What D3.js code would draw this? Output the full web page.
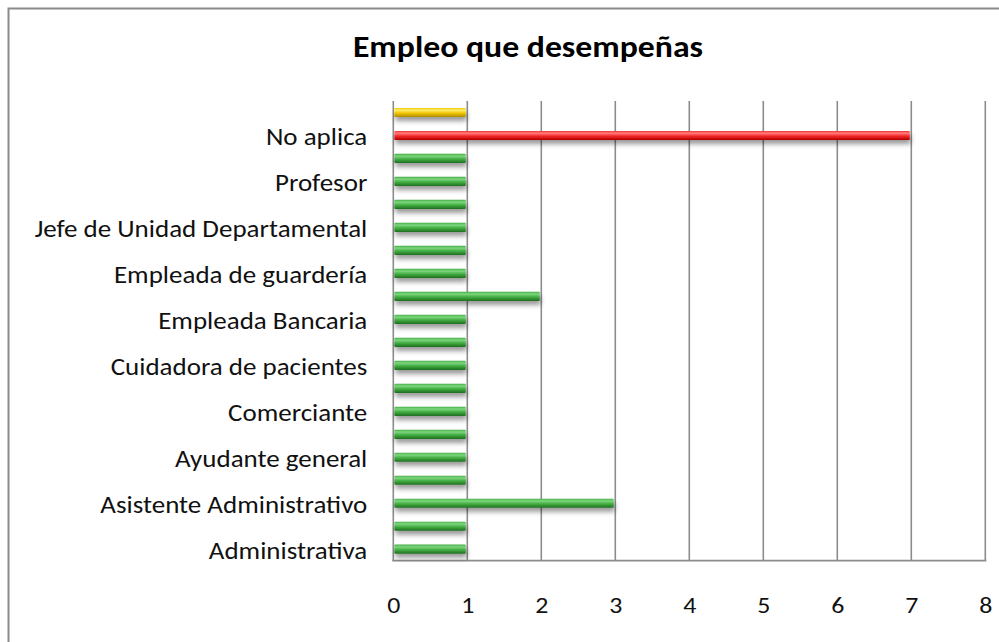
<!DOCTYPE html>
<html>
<head>
<meta charset="utf-8">
<script src="https://cdn.jsdelivr.net/npm/d3@7"></script>
<style>
  html, body { margin: 0; padding: 0; background: #fff; }
  svg { display: block; font-family: Carlito, Calibri, Lato, "Open Sans", sans-serif; }
</style>
</head>
<body>
<svg id="chart" width="999" height="642"></svg>
<script>
// ---- data (bottom to top, as drawn) ----
// Only every other category label is printed in the original; unprinted ones are left blank.
const categories = [
  "Administrativa", "",
  "Asistente Administrativo", "",
  "Ayudante general", "",
  "Comerciante", "",
  "Cuidadora de pacientes", "",
  "Empleada Bancaria", "",
  "Empleada de guardería", "",
  "Jefe de Unidad Departamental", "",
  "Profesor", "",
  "No aplica", ""
];
const values = [1, 1, 3, 1, 1, 1, 1, 1, 1, 1, 1, 2, 1, 1, 1, 1, 1, 1, 7, 1];
const barGroup = ["g","g","g","g","g","g","g","g","g","g","g","g","g","g","g","g","g","g","r","y"];
const xTicks = [0, 1, 2, 3, 4, 5, 6, 7, 8];
const title = "Empleo que desempeñas";

// ---- styling ----
const palette = {
  g: { light: "#7fd67f", mid: "#45b045", dark: "#1f6e1f" },
  r: { light: "#ff8080", mid: "#f52a2a", dark: "#b00000" },
  y: { light: "#ffee70", mid: "#f2c800", dark: "#b08a00" }
};
const stretch = 1.125;  // the reference text is slightly wide

const svg = d3.select("#chart");
const plot = { left: 393.3, right: 985.3, top: 101, bottom: 560.7 };

// outer chart border
svg.append("rect")
  .attr("x", 8.5).attr("y", 8.5).attr("width", 1100).attr("height", 700)
  .attr("fill", "#fff").attr("stroke", "#8a8a8a").attr("stroke-width", 2);

const defs = svg.append("defs");
Object.entries(palette).forEach(([k, c]) => {
  const lg = defs.append("linearGradient").attr("id", "grad-" + k)
    .attr("x1", 0).attr("y1", 0).attr("x2", 0).attr("y2", 1);
  lg.append("stop").attr("offset", "0%").attr("stop-color", c.mid);
  lg.append("stop").attr("offset", "25%").attr("stop-color", c.light);
  lg.append("stop").attr("offset", "55%").attr("stop-color", c.mid);
  lg.append("stop").attr("offset", "100%").attr("stop-color", c.dark);
});
const f = defs.append("filter").attr("id", "shadow")
  .attr("x", "-10%").attr("y", "-60%").attr("width", "130%").attr("height", "300%");
f.append("feDropShadow").attr("dx", 1).attr("dy", 4).attr("stdDeviation", 2.5)
  .attr("flood-color", "#000").attr("flood-opacity", 0.4);

const x = d3.scaleLinear().domain([0, 8]).range([plot.left, plot.right]);
const idx = d3.range(categories.length);
const y = d3.scaleBand().domain(idx).range([plot.bottom, plot.top])
  .paddingInner(0.6).paddingOuter(0.3);

// title
svg.append("text")
  .attr("transform", `translate(528,56.5) scale(${stretch},1)`)
  .attr("text-anchor", "middle").attr("font-weight", "bold")
  .attr("font-size", 30).attr("fill", "#000").text(title);

// gridlines
svg.append("g").selectAll("line").data(xTicks).join("line")
  .attr("x1", d => x(d)).attr("x2", d => x(d))
  .attr("y1", plot.top).attr("y2", plot.bottom)
  .attr("stroke", "#8c8c8c").attr("stroke-width", 1.6);

// floor / bottom axis line
svg.append("line")
  .attr("x1", plot.left - 1).attr("x2", plot.right + 1)
  .attr("y1", plot.bottom).attr("y2", plot.bottom)
  .attr("stroke", "#8c8c8c").attr("stroke-width", 1.8);

// bars
svg.append("g").selectAll("rect").data(idx).join("rect")
  .attr("x", x(0) + 1)
  .attr("y", i => y(i))
  .attr("width", i => x(values[i]) - x(0) - 2.5)
  .attr("height", y.bandwidth())
  .attr("rx", 1)
  .attr("fill", i => `url(#grad-${barGroup[i]})`)
  .attr("filter", "url(#shadow)");

// y axis labels (via d3 axis, no line/ticks)
const yAxis = d3.axisLeft(y).tickSize(0).tickPadding(0)
  .tickFormat(i => categories[i]);
const gy = svg.append("g").attr("transform", `translate(${plot.left - 26},0)`).call(yAxis);
gy.select(".domain").remove();
gy.selectAll("text").attr("font-size", 24).attr("fill", "#111")
  .attr("font-family", "Carlito, Calibri, Lato, sans-serif")
  .attr("x", 0).attr("dy", "0.40em")
  .attr("transform", `scale(${stretch},1)`);

// x axis labels
const xAxis = d3.axisBottom(x).tickValues(xTicks).tickSize(0).tickPadding(0)
  .tickFormat(d3.format("d"));
const gx = svg.append("g").attr("transform", `translate(0,612.5)`).call(xAxis);
gx.select(".domain").remove();
gx.selectAll("text").attr("font-size", 23).attr("fill", "#111")
  .attr("font-family", "Carlito, Calibri, Lato, sans-serif")
  .attr("y", 0).attr("dy", 0)
  .attr("transform", `scale(${stretch},1)`);
</script>
</body>
</html>
